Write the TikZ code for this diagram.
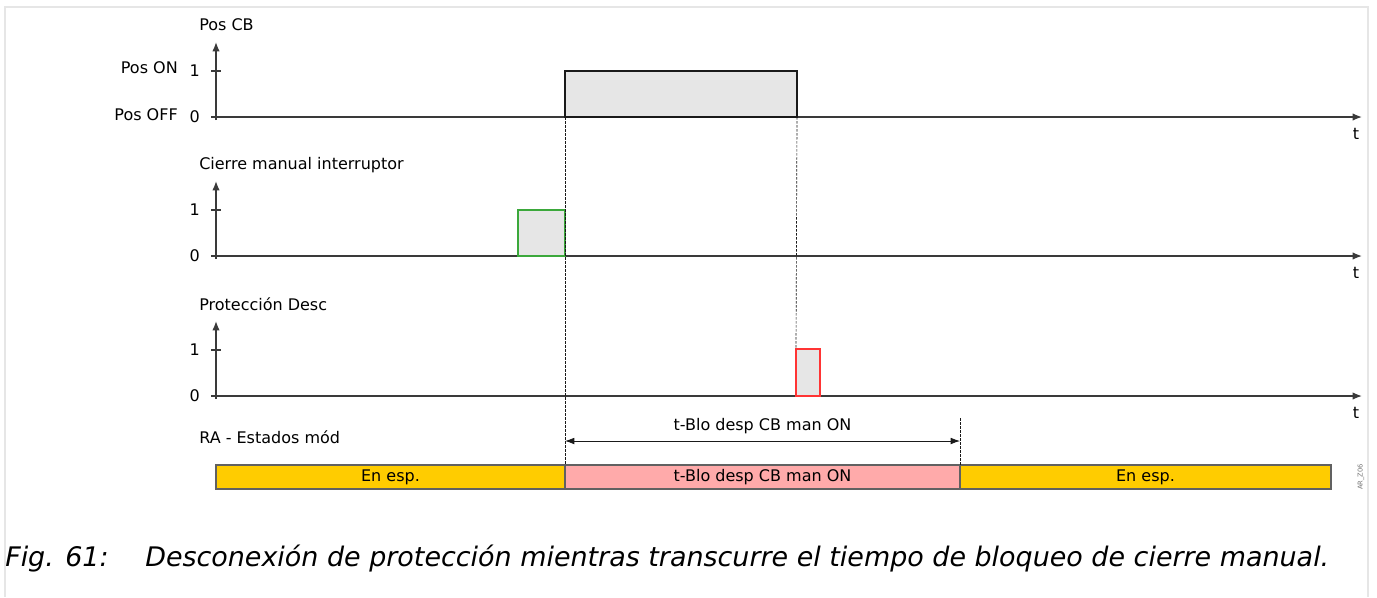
\documentclass[tikz,border=0pt]{standalone}
\usepackage{fontspec}
\setmainfont{DejaVu Sans}
\usetikzlibrary{arrows.meta,positioning,calc}
\definecolor{ink}{HTML}{1A1A1A}
\definecolor{axisgray}{HTML}{3A3A3A}
\definecolor{pulsebg}{HTML}{E6E6E6}
\definecolor{waityel}{HTML}{FFCC00}
\definecolor{blockred}{HTML}{FFAAAA}
\definecolor{okgreen}{HTML}{3BA83B}
\definecolor{tripred}{HTML}{FF3434}
\definecolor{framegray}{HTML}{E6E6E6}

\begin{document}
\begin{tikzpicture}[
  x=0.75pt, y=-0.75pt, font=\fontsize{12}{14}\selectfont,
  axis/.style={draw=axisgray, line width=1pt, -{Latex[length=7pt,width=5.5pt]}},
  tick/.style={draw=axisgray, line width=.9pt},
  pulse/.style={draw=#1, fill=pulsebg, line width=.8pt, inner sep=0pt, outer sep=0pt,
                anchor=south west},
  guide/.style={draw=ink, dash pattern=on 2pt off 1pt, line width=.5pt},
  hdr/.style={inner sep=0pt, anchor=west},
  val/.style={inner sep=0pt, anchor=east},
  state/.style={draw=axisgray!80, fill=#1, line width=.8pt, inner sep=0pt, outer sep=0pt,
                minimum height=18pt},
  dim/.style={{Latex[length=7pt,width=5pt]}-{Latex[length=7pt,width=5pt]}, draw=ink, line width=.6pt},
]
\useasboundingbox (0,0) rectangle (1377,597);

%% ================= page frame =================
\draw[framegray, line width=1.4pt] (5,597) -- (5,7) -- (1368,7) -- (1368,597);

%% ================= three signal axes =================
\foreach \p/\yo in {1/117,2/256,3/396}{
  \coordinate (o\p) at (216,\yo);
  \draw[axis] ($(o\p)+(0,3)$) -- ++(0,-78);
  \draw[axis] (o\p) -- ++(1146,0);
  \draw[tick] ($(o\p)+(-5,-46)$) -- ++(10,0);
  \draw[tick] ($(o\p)+(-5,0)$) -- ++(5,0);
  \node[val] (one\p) at ($(o\p)+(-16,-46)$) {1};
  \node[val] (zero\p) at ($(o\p)+(-16,0)$) {0};
  \node (t\p) at ($(o\p)+(1140,17)$) {t};
}

\node[hdr] (hcb) at (199,25) {Pos CB};
\node[val] (pon) at (178,68) {Pos ON};
\node[val] (poff) at (178,115) {Pos OFF};
\node[hdr] (hman) at (199,165) {Cierre manual interruptor};
\node[hdr] (hprot) at (199,304) {Protección Desc};
\node[hdr] (hra) at (199,437) {RA - Estados mód};

%% ================= pulses =================
\node[pulse=ink, minimum width=174pt, minimum height=34.5pt] (cb) at (565,117) {};
\node[pulse=okgreen, minimum width=35.25pt, minimum height=34.5pt] (man) at (518,256) {};
\node[pulse=tripred, minimum width=18pt, minimum height=35.25pt] (trip) at (796,396) {};

%% ================= state bar =================
\node[state=waityel, minimum width=261.75pt, anchor=north west] (s1) at (216,465) {En esp.};
\node[state=blockred, minimum width=296.25pt, right=0pt of s1] (s2) {t-Blo desp CB man ON};
\node[state=waityel, minimum width=278.25pt, right=0pt of s2] (s3) {En esp.};

%% ================= timing guides =================
\draw[guide] (cb.south west) -- (s2.north west);
\draw[guide] (cb.south east) -- (trip.north west);
\coordinate (dimtop) at ($(s3.north west)+(0,-47)$);
\draw[guide] (dimtop) -- (s3.north west);

\coordinate (diml) at ($(s2.north west)+(0,-24)$);
\coordinate (dimr) at ($(s3.north west)+(0,-24)$);
\draw[dim] (diml) -- node[above=5pt, inner sep=0pt] (dimlbl) {t-Blo desp CB man ON} (dimr);

\node[rotate=90, text=black!55, font=\fontsize{5}{6}\selectfont] (ref) at (1361,477) {AR\_Z06};

%% ================= caption =================
\node[inner sep=0pt, anchor=base west, font=\fontsize{20.2}{24}\selectfont\itshape] (fig) at (5,566) {Fig. 61:};
\node[inner sep=0pt, anchor=base west, font=\fontsize{20.2}{24}\selectfont\itshape] (cap) at (145,566)
  {Desconexión de protección mientras transcurre el tiempo de bloqueo de cierre manual.};

\end{tikzpicture}
\end{document}
